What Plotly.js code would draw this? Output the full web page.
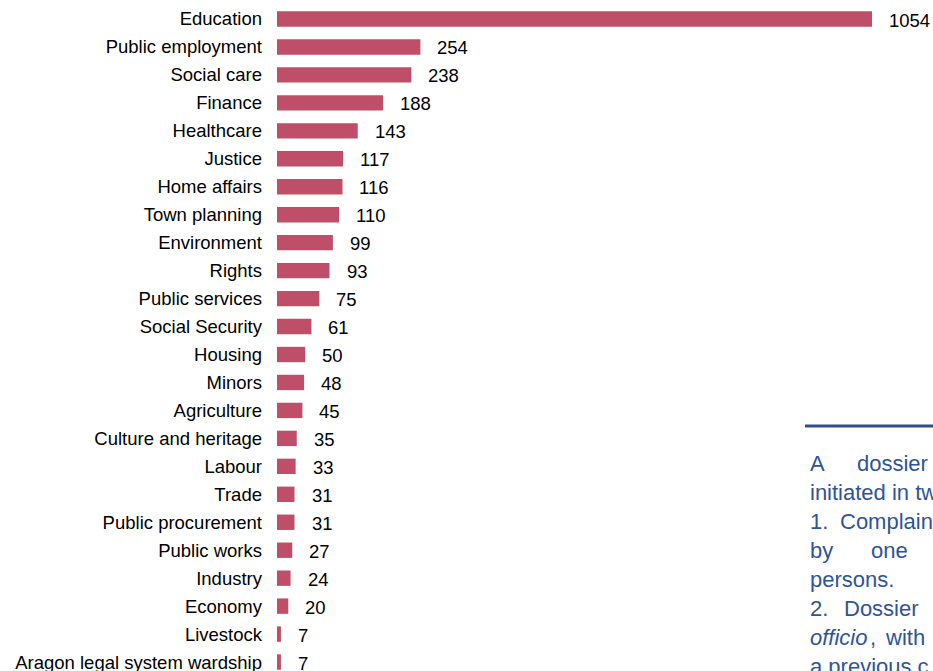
<!DOCTYPE html>
<html>
<head>
<meta charset="utf-8">
<script src="https://cdn.plot.ly/plotly-3.0.1.min.js"></script>
<style>html,body{margin:0;padding:0;background:#fff;}#chart{width:933px;height:671px;}</style>
</head>
<body>
<div id="chart"></div>
<script>
const categories = ["Education","Public employment","Social care","Finance","Healthcare","Justice","Home affairs","Town planning","Environment","Rights","Public services","Social Security","Housing","Minors","Agriculture","Culture and heritage","Labour","Trade","Public procurement","Public works","Industry","Economy","Livestock","Aragon legal system wardship"];
const values = [1054,254,238,188,143,117,116,110,99,93,75,61,50,48,45,35,33,31,31,27,24,20,7,7];

// side note (visible part of the page's text box), words with their offsets from the box's left edge
const noteLines = [
  [["A", 0], ["dossier", 47]],
  [["initiated in tw", 0]],
  [["1.", 0], ["Complain", 30]],
  [["by", 0], ["one", 61]],
  [["persons.", 0]],
  [["2.", 0], ["Dossier", 34]],
  [["<i>officio</i>", 0], [",", 60], ["with", 75]],
  [["a previous c", 0]]
];

const barColor = "#BF4F69";
const textFont = {family: "Liberation Sans, Arial, sans-serif", size: 18.5, color: "#000"};
const noteFont = {family: "Liberation Sans, Arial, sans-serif", size: 22, color: "#2F5496"};

const W = 933, H = 671, ML = 277, MR = 0;
const PW = W - ML - MR;
const px2paperX = p => (p - ML) / PW;
const px2paperY = p => 1 - p / H;

const annotations = values.map((v, i) => ({
  x: v, y: categories[i], xref: "x", yref: "y",
  text: String(v), showarrow: false, xanchor: "left", yanchor: "middle",
  xshift: 15, yshift: -1, font: textFont
}));

noteLines.forEach((line, li) => {
  line.forEach(([t, dx]) => {
    annotations.push({
      x: px2paperX(808 + dx), y: px2paperY(463 + li * 29), xref: "paper", yref: "paper",
      text: t, showarrow: false, xanchor: "left", yanchor: "middle",
      font: noteFont
    });
  });
});

const data = [{
  type: "bar", orientation: "h",
  x: values, y: categories,
  marker: {color: barColor},
  width: 0.55,
  hoverinfo: "none"
}];

const layout = {
  width: W, height: H,
  margin: {l: ML, r: MR, t: 0, b: 0, pad: 0},
  paper_bgcolor: "#fff", plot_bgcolor: "#fff",
  showlegend: false,
  xaxis: {range: [0, 1162], visible: false, fixedrange: true},
  yaxis: {
    type: "category", range: [23.32, -0.68],
    showgrid: false, zeroline: false, showline: false, ticks: "",
    ticklabelstandoff: 14,
    tickfont: textFont, automargin: false, fixedrange: true
  },
  shapes: [{
    type: "line", xref: "paper", yref: "paper",
    x0: px2paperX(805), x1: 1.0, y0: px2paperY(426), y1: px2paperY(426),
    line: {color: "#2F4F8F", width: 3}
  }],
  annotations: annotations
};

Plotly.newPlot("chart", data, layout, {displayModeBar: false, staticPlot: true});
</script>
</body>
</html>
